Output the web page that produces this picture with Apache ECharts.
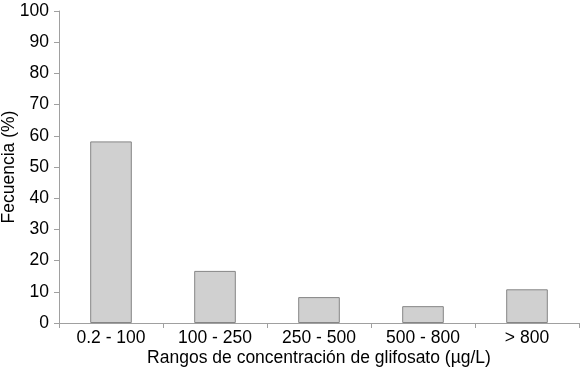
<!DOCTYPE html>
<html><head><meta charset="utf-8">
<script src="https://cdn.jsdelivr.net/npm/echarts@6/dist/echarts.min.js"></script>
<style>html,body{margin:0;padding:0;background:#fff}#c{width:580px;height:371px}</style>
</head><body><div id="c"></div>
<script>
const categories = ['0.2 - 100', '100 - 250', '250 - 500', '500 - 800', '> 800'];
const frecuencia = [58.2, 16.7, 8.3, 5.4, 10.8];
const yTicks = [0, 10, 20, 30, 40, 50, 60, 70, 80, 90, 100];

const chart = echarts.init(document.getElementById('c'), null, {renderer: 'canvas'});
const font = 'Liberation Sans, Arial, sans-serif';
chart.setOption({
  animation: false,
  backgroundColor: '#ffffff',
  grid: {left: 59, right: 1, top: 11, bottom: 48, containLabel: false, outerBoundsMode: 'none'},
  xAxis: {
    type: 'category',
    data: categories,
    name: 'Rangos de concentración de glifosato (µg/L)',
    nameLocation: 'middle',
    nameGap: 26,
    nameMoveOverlap: false,
    nameTextStyle: {fontFamily: font, fontSize: 17.5, color: '#000'},
    axisLine: {lineStyle: {color: '#a0a0a0', width: 1}},
    axisTick: {show: true, length: 5, lineStyle: {color: '#a0a0a0'}},
    axisLabel: {fontFamily: font, fontSize: 17.5, color: '#000', margin: 6}
  },
  yAxis: {
    type: 'value',
    min: 0, max: 100, interval: 10,
    name: 'Fecuencia (%)',
    nameLocation: 'middle',
    nameGap: 41,
    nameMoveOverlap: false,
    nameRotate: 90,
    nameTextStyle: {fontFamily: font, fontSize: 17.5, color: '#000'},
    axisLine: {show: true, lineStyle: {color: '#a0a0a0', width: 1}},
    axisTick: {show: true, length: 5, lineStyle: {color: '#a0a0a0'}},
    splitLine: {show: false},
    axisLabel: {fontFamily: font, fontSize: 17.5, color: '#000', margin: 10,
      formatter: v => yTicks.includes(v) ? String(v) : ''}
  },
  series: [{
    type: 'bar',
    data: frecuencia,
    barWidth: '40%',
    itemStyle: {color: '#d0d0d0', borderColor: '#858585', borderWidth: 1}
  }]
});
</script></body></html>
